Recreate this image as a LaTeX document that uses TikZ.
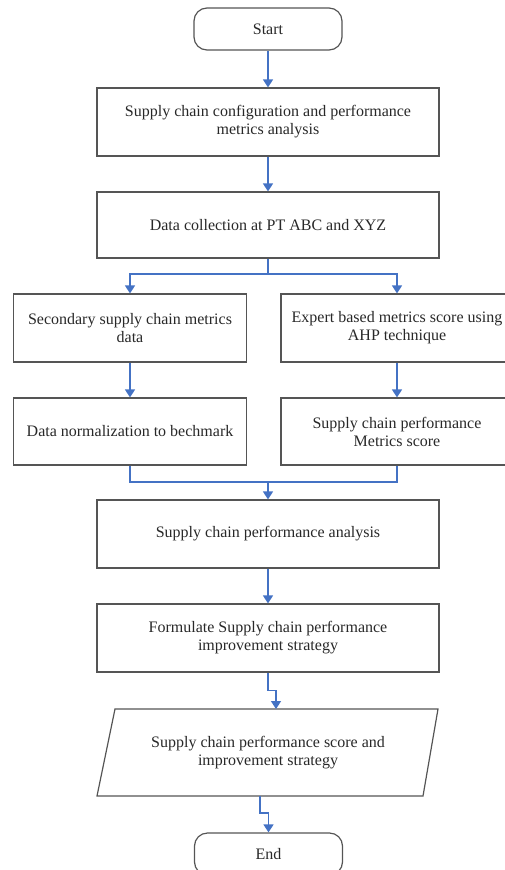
\documentclass[tikz,border=0pt]{standalone}
\usepackage{fontspec}
\setmainfont{Liberation Serif}
\usetikzlibrary{arrows.meta}
\definecolor{flowblue}{RGB}{68,114,196}
\definecolor{boxgray}{RGB}{85,85,85}
\definecolor{textgray}{RGB}{40,40,40}
\tikzset{
  box/.style = {draw=boxgray, line width=1.2pt, align=center, inner sep=0pt,
                text=textgray, font=\fontsize{16}{18}\selectfont},
  widebox/.style = {box, minimum width=342pt, minimum height=68pt},
  halfbox/.style = {box, minimum width=233pt, minimum height=68pt},
  termbox/.style = {box, rounded corners=13pt, minimum width=148pt, minimum height=42pt},
  flow/.style = {draw=flowblue, line width=1.5pt},
}
\begin{document}
\begin{tikzpicture}[x=1pt, y=-1pt, > = {Triangle[width=10pt,length=8pt]}]
\useasboundingbox (0,0) rectangle (504,870);
\node[termbox] (start) at (268,29) {Start};
\node[widebox] (conf) at (268,122) {Supply chain configuration and performance\\metrics analysis};
\node[widebox, minimum height=66pt] (coll) at (268,225) {Data collection at PT ABC and XYZ};
\node[halfbox] (sec) at (130,328) {Secondary supply chain metrics\\data};
\node[halfbox, minimum width=232pt] (exp) at (397,328) {Expert based metrics score using\\AHP technique};
\node[halfbox, minimum height=67pt] (norm) at (130,431.5) {Data normalization to bechmark};
\node[halfbox, minimum width=232pt, minimum height=67pt] (score) at (397,431.5) {Supply chain performance\\Metrics score};
\node[widebox] (anal) at (268,534) {Supply chain performance analysis};
\node[widebox] (form) at (268,638) {Formulate Supply chain performance\\improvement strategy};
%\node[box] (out) ... drawn by hand below
\draw[draw=boxgray, line width=1.2pt] (115,709) -- (438,709) -- (423,796) -- (97,796) -- cycle;
\node[box, draw=none, minimum height=87pt] (out) at (268,752.5) {Supply chain performance score and\\improvement strategy};
\node[termbox] (end) at (268.5,854) {End};
\coordinate (split) at (268,274);
\coordinate (merge) at (268,482);
\coordinate (outin) at (276,709);
\coordinate (outend) at (260,796);
\draw[flow, ->] (start) -- (conf);
\draw[flow, ->] (conf) -- (coll);
\draw[flow] (coll) -- (split);
\draw[flow, ->] (split) -| (sec);
\draw[flow, ->] (split) -| (exp);
\draw[flow, ->] (sec) -- (norm);
\draw[flow, ->] (exp) -- (score);
\draw[flow] (norm) |- (merge);
\draw[flow] (score) |- (merge);
\draw[flow, ->] (merge) -- (anal);
\draw[flow, ->] (anal) -- (form);
\draw[flow, ->] (form.south) -- ++(0,18) -| (outin);
\draw[flow, ->] (outend) -- ++(0,17) -| (end);
\end{tikzpicture}
\end{document}
